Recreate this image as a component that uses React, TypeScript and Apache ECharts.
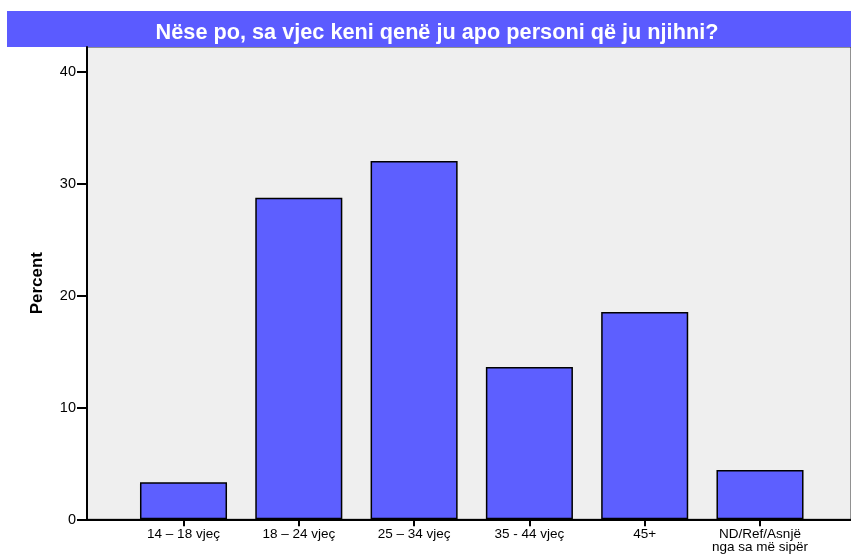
import React, { useEffect, useRef } from "react";
import * as echarts from "echarts";

const titleText = "Nëse po, sa vjec keni qenë ju apo personi që ju njihni?";
const categories = [
  "14 – 18 vjeç",
  "18 – 24 vjeç",
  "25 – 34 vjeç",
  "35 - 44 vjeç",
  "45+",
  "ND/Ref/Asnjë\nnga sa më sipër",
];
const percentValues = [3.3, 28.7, 32.0, 13.6, 18.5, 4.4];
const yTicks = { min: 0, max: 40, interval: 10 };
const yAxisName = "Percent";

export default function App() {
  const ref = useRef<HTMLDivElement>(null);
  useEffect(() => {
    if (!ref.current) return;
    const chart = echarts.init(ref.current, undefined, { renderer: "svg" });
    const font = "Liberation Sans, Arial, sans-serif";
    const bottom = 34.7;
    chart.setOption({
      animation: false,
      textStyle: { fontFamily: font },
      graphic: [
        {
          type: "rect",
          shape: { x: 7, y: 11, width: 844, height: 36 },
          style: { fill: "#5b5bff" },
          z: 0,
        },
        {
          type: "text",
          x: 437,
          y: 31,
          style: {
            text: titleText,
            fill: "#ffffff",
            font: "bold 21.7px Liberation Sans, Arial, sans-serif",
            textAlign: "center",
            textVerticalAlign: "middle",
          },
          z: 1,
        },
      ],
      grid: [
        {
          // frame: background, border, axis lines
          left: 87,
          right: 0,
          top: 47,
          bottom,
          outerBoundsMode: "none",
          containLabel: false,
          show: true,
          backgroundColor: "#efefef",
          borderColor: "#333333",
          borderWidth: 1,
        },
        {
          // y ticks and labels
          left: 87,
          right: 0,
          top: 71.3,
          bottom,
          outerBoundsMode: "none",
          containLabel: false,
        },
        {
          // bars
          left: 125.85,
          right: 33.35,
          top: 71.3,
          bottom,
          outerBoundsMode: "none",
          containLabel: false,
        },
      ],
      xAxis: [
        {
          gridIndex: 0,
          type: "category",
          data: [""],
          axisLine: { show: true, lineStyle: { color: "#000", width: 2 } },
          axisTick: { show: false },
          axisLabel: { show: false },
          splitLine: { show: false },
        },
        {
          gridIndex: 1,
          type: "category",
          data: [""],
          show: false,
        },
        {
          gridIndex: 2,
          type: "category",
          data: categories,
          axisLine: { show: false },
          axisTick: {
            show: true,
            alignWithLabel: true,
            length: 7,
            lineStyle: { color: "#000", width: 2 },
          },
          axisLabel: {
            color: "#000",
            fontSize: 13.5,
            margin: 8,
            lineHeight: 13,
            interval: 0,
          },
        },
      ],
      yAxis: [
        {
          gridIndex: 0,
          type: "value",
          min: 0,
          max: 42.17,
          axisLine: { show: true, lineStyle: { color: "#000", width: 2 } },
          axisTick: { show: false },
          axisLabel: { show: false },
          splitLine: { show: false },
          name: yAxisName,
          nameLocation: "middle",
          nameGap: 42,
          nameTextStyle: { fontWeight: "bold", fontSize: 17, color: "#000" },
        },
        {
          gridIndex: 1,
          type: "value",
          min: yTicks.min,
          max: yTicks.max,
          interval: yTicks.interval,
          axisLine: { show: false },
          axisTick: { show: true, length: 10, lineStyle: { color: "#000", width: 2 } },
          axisLabel: { color: "#000", fontSize: 14.5, margin: 11 },
          splitLine: { show: false },
        },
        {
          gridIndex: 2,
          type: "value",
          min: yTicks.min,
          max: yTicks.max,
          interval: yTicks.interval,
          show: false,
        },
      ],
      series: [
        {
          type: "bar",
          xAxisIndex: 2,
          yAxisIndex: 2,
          data: percentValues,
          barWidth: "75.5%",
          itemStyle: { color: "#5d5fff", borderColor: "#000", borderWidth: 1.5 },
        },
      ],
    });
    return () => chart.dispose();
  }, []);
  return (
    <div
      ref={ref}
      style={{ position: "fixed", left: 0, top: 0, width: 851, height: 554 }}
    />
  );
}
